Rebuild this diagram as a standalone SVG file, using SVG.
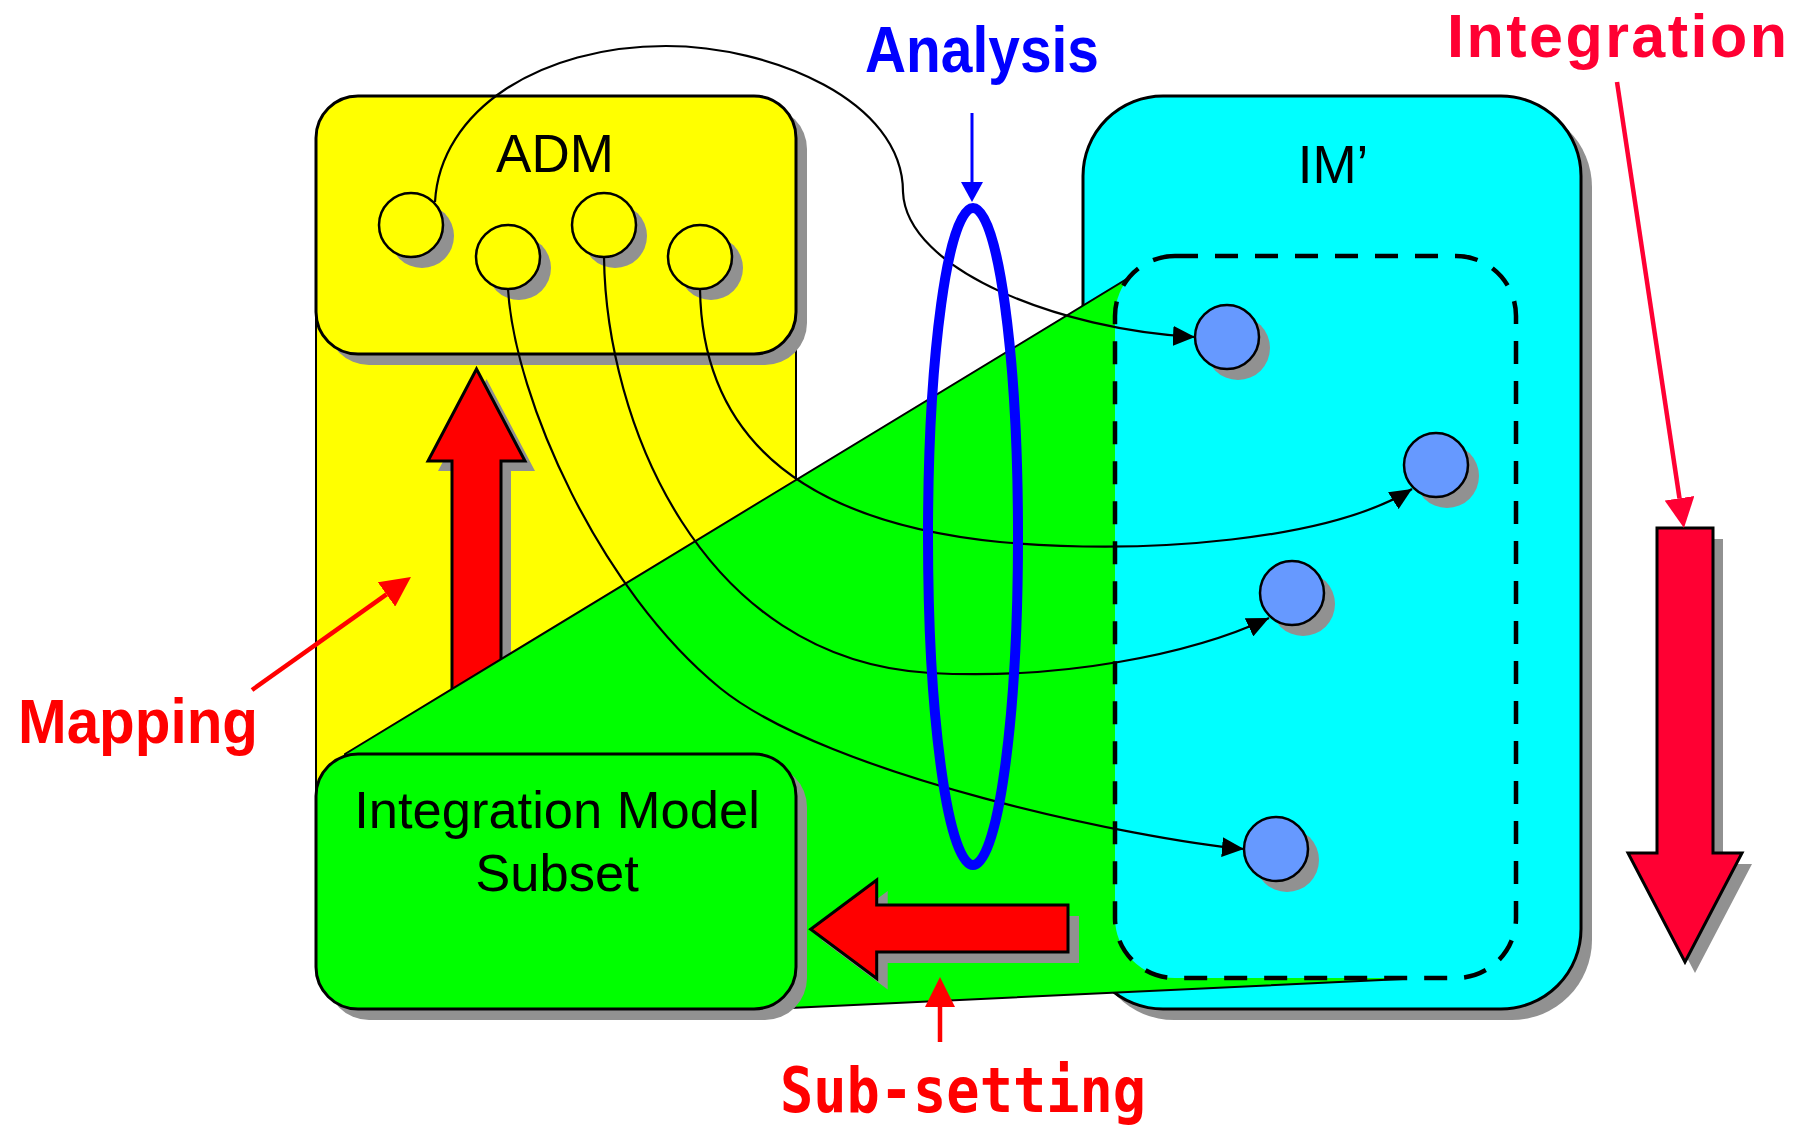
<svg xmlns="http://www.w3.org/2000/svg" width="1805" height="1127" viewBox="0 0 1805 1127">
<defs>
<style>
.sh{fill:#919191;stroke:none}
.box{stroke:#000;stroke-width:3}
.ycirc{fill:#FFFF00;stroke:#000;stroke-width:2.5}
.bcirc{fill:#6699FF;stroke:#000;stroke-width:2.5}
.conn{fill:none;stroke:#000;stroke-width:2.2}
.bigarrow{stroke:#000;stroke-width:3;stroke-linejoin:miter}
.lbl{font-family:"Liberation Sans",Arial,sans-serif;fill:#000}
.bold{font-family:"Liberation Sans",Arial,sans-serif;font-weight:bold}
.mono{font-family:"DejaVu Sans Mono","Liberation Mono",monospace;font-weight:bold}
</style>
<marker id="ah" markerUnits="userSpaceOnUse" markerWidth="22" markerHeight="20" viewBox="0 0 22 20" refX="22" refY="10" orient="auto"><path d="M0,0 L22,10 L0,20 Z" fill="#000"/></marker>
<marker id="rh" markerUnits="userSpaceOnUse" markerWidth="30" markerHeight="30" viewBox="0 0 30 30" refX="0" refY="15" orient="auto"><path d="M0,0 L30,15 L0,30 Z" fill="#FF0000"/></marker>
<marker id="rh2" markerUnits="userSpaceOnUse" markerWidth="30" markerHeight="30" viewBox="0 0 30 30" refX="0" refY="15" orient="auto"><path d="M0,0 L30,15 L0,30 Z" fill="#FF0033"/></marker>
<marker id="bh" markerUnits="userSpaceOnUse" markerWidth="20" markerHeight="22" viewBox="0 0 20 22" refX="0" refY="11" orient="auto"><path d="M0,0 L20,11 L0,22 Z" fill="#0000FF"/></marker>
</defs>
<rect width="1805" height="1127" fill="#FFFFFF"/>

<g id="adm-extension">
<rect x="316" y="300" width="480" height="600" fill="#FFFF00" stroke="#000" stroke-width="2"/>
</g>

<g id="mapping-arrow">
<polygon class="sh" transform="translate(10,10)" points="476.5,369 525,461 501,461 501,760 452,760 452,461 428,461"/>
<polygon class="bigarrow" fill="#FF0000" points="476.5,369 525,461 501,461 501,760 452,760 452,461 428,461"/>
</g>

<g id="im-prime">
<rect class="sh" x="1094" y="107" width="498" height="913" rx="80" ry="80"/>
<rect class="box" x="1083" y="96" width="498" height="913" rx="80" ry="80" fill="#00FFFF"/>
<text class="lbl" x="1333" y="183" font-size="53" text-anchor="middle">IM’</text>
</g>

<g id="subset-region">
<polygon points="345,754 1163,257 1300,262 1402,979 790,1008 345,995" fill="#00FF00" stroke="#000" stroke-width="2"/>
</g>

<g id="im-subset">
<rect x="1115" y="256" width="401" height="722" rx="60" ry="60" fill="#00FFFF" stroke="#000" stroke-width="4.5" stroke-dasharray="23 17"/>
</g>

<g id="im-nodes">
<circle class="sh" cx="1238" cy="348" r="32"/>
<circle class="bcirc" cx="1227" cy="337" r="32"/>
<circle class="sh" cx="1447" cy="476" r="32"/>
<circle class="bcirc" cx="1436" cy="465" r="32"/>
<circle class="sh" cx="1303" cy="604" r="32"/>
<circle class="bcirc" cx="1292" cy="593" r="32"/>
<circle class="sh" cx="1287" cy="860" r="32"/>
<circle class="bcirc" cx="1276" cy="849" r="32"/>
</g>

<g id="adm">
<rect class="sh" x="327" y="107" width="480" height="258" rx="42" ry="42"/>
<rect class="box" x="316" y="96" width="480" height="258" rx="42" ry="42" fill="#FFFF00"/>
<text class="lbl" x="555" y="172" font-size="53" text-anchor="middle">ADM</text>
<circle class="sh" cx="422" cy="236" r="32"/>
<circle class="ycirc" cx="411" cy="225" r="32"/>
<circle class="sh" cx="519" cy="268" r="32"/>
<circle class="ycirc" cx="508" cy="257" r="32"/>
<circle class="sh" cx="615" cy="236" r="32"/>
<circle class="ycirc" cx="604" cy="225" r="32"/>
<circle class="sh" cx="711" cy="268" r="32"/>
<circle class="ycirc" cx="700" cy="257" r="32"/>
</g>

<g id="im-subset-box">
<rect class="sh" x="327" y="765" width="480" height="255" rx="42" ry="42"/>
<rect class="box" x="316" y="754" width="480" height="255" rx="42" ry="42" fill="#00FF00"/>
<text class="lbl" x="557" y="828" font-size="52.5" text-anchor="middle">Integration Model</text>
<text class="lbl" x="557" y="891" font-size="52.5" text-anchor="middle">Subset</text>
</g>

<g id="subsetting-arrow">
<polygon class="sh" transform="translate(11,11)" points="810.7,929.3 876.7,880 876.7,905 1068,905 1068,952 876.7,952 876.7,978.5"/>
<polygon class="bigarrow" fill="#FF0000" points="810.7,929.3 876.7,880 876.7,905 1068,905 1068,952 876.7,952 876.7,978.5"/>
</g>

<g id="integration-arrow">
<polygon class="sh" transform="translate(10,11)" points="1657,528 1713,528 1713,853 1742,853 1685,962 1628,853 1657,853"/>
<polygon class="bigarrow" fill="#FF0033" points="1657,528 1713,528 1713,853 1742,853 1685,962 1628,853 1657,853"/>
</g>

<g id="connectors">
<path class="conn" marker-end="url(#ah)" d="M435,202 C440,110 540,46 666,46 C770,46 903,100 903,192 C906,270 1060,330 1195,337"/>
<path class="conn" marker-end="url(#ah)" d="M508,289 C515,400 600,590 720,688 C828,776 1140,840 1244,849"/>
<path class="conn" marker-end="url(#ah)" d="M604,257 C606,420 700,660 930,673 C1060,680 1190,655 1269,618"/>
<path class="conn" marker-end="url(#ah)" d="M700,289 C702,420 780,520 1000,542 C1150,555 1330,540 1412,489"/>
</g>

<g id="analysis">
<ellipse cx="973" cy="536.5" rx="45" ry="328.5" fill="none" stroke="#0000FF" stroke-width="10"/>
<line x1="972" y1="113" x2="972" y2="182" stroke="#0000FF" stroke-width="3" marker-end="url(#bh)"/>
<text class="bold" x="865" y="72" font-size="64" fill="#0000FF" textLength="234" lengthAdjust="spacingAndGlyphs">Analysis</text>
</g>

<g id="mapping-label">
<line x1="252" y1="690" x2="386.5" y2="594.4" stroke="#FF0000" stroke-width="4.5" marker-end="url(#rh)"/>
<text class="bold" x="18" y="743" font-size="63" fill="#FF0000" textLength="240" lengthAdjust="spacingAndGlyphs">Mapping</text>
</g>

<g id="integration-label">
<line x1="1617" y1="82" x2="1679.5" y2="498.3" stroke="#FF0033" stroke-width="4.5" marker-end="url(#rh2)"/>
<text class="bold" x="1447" y="57" font-size="61" fill="#FF0033" textLength="340" lengthAdjust="spacing">Integration</text>
</g>

<g id="subsetting-label">
<line x1="940" y1="1042" x2="940" y2="1007" stroke="#FF0000" stroke-width="4.5" marker-end="url(#rh)"/>
<text class="mono" x="780" y="1112" font-size="63" fill="#FF0000" textLength="366" lengthAdjust="spacingAndGlyphs">Sub-setting</text>
</g>
</svg>
